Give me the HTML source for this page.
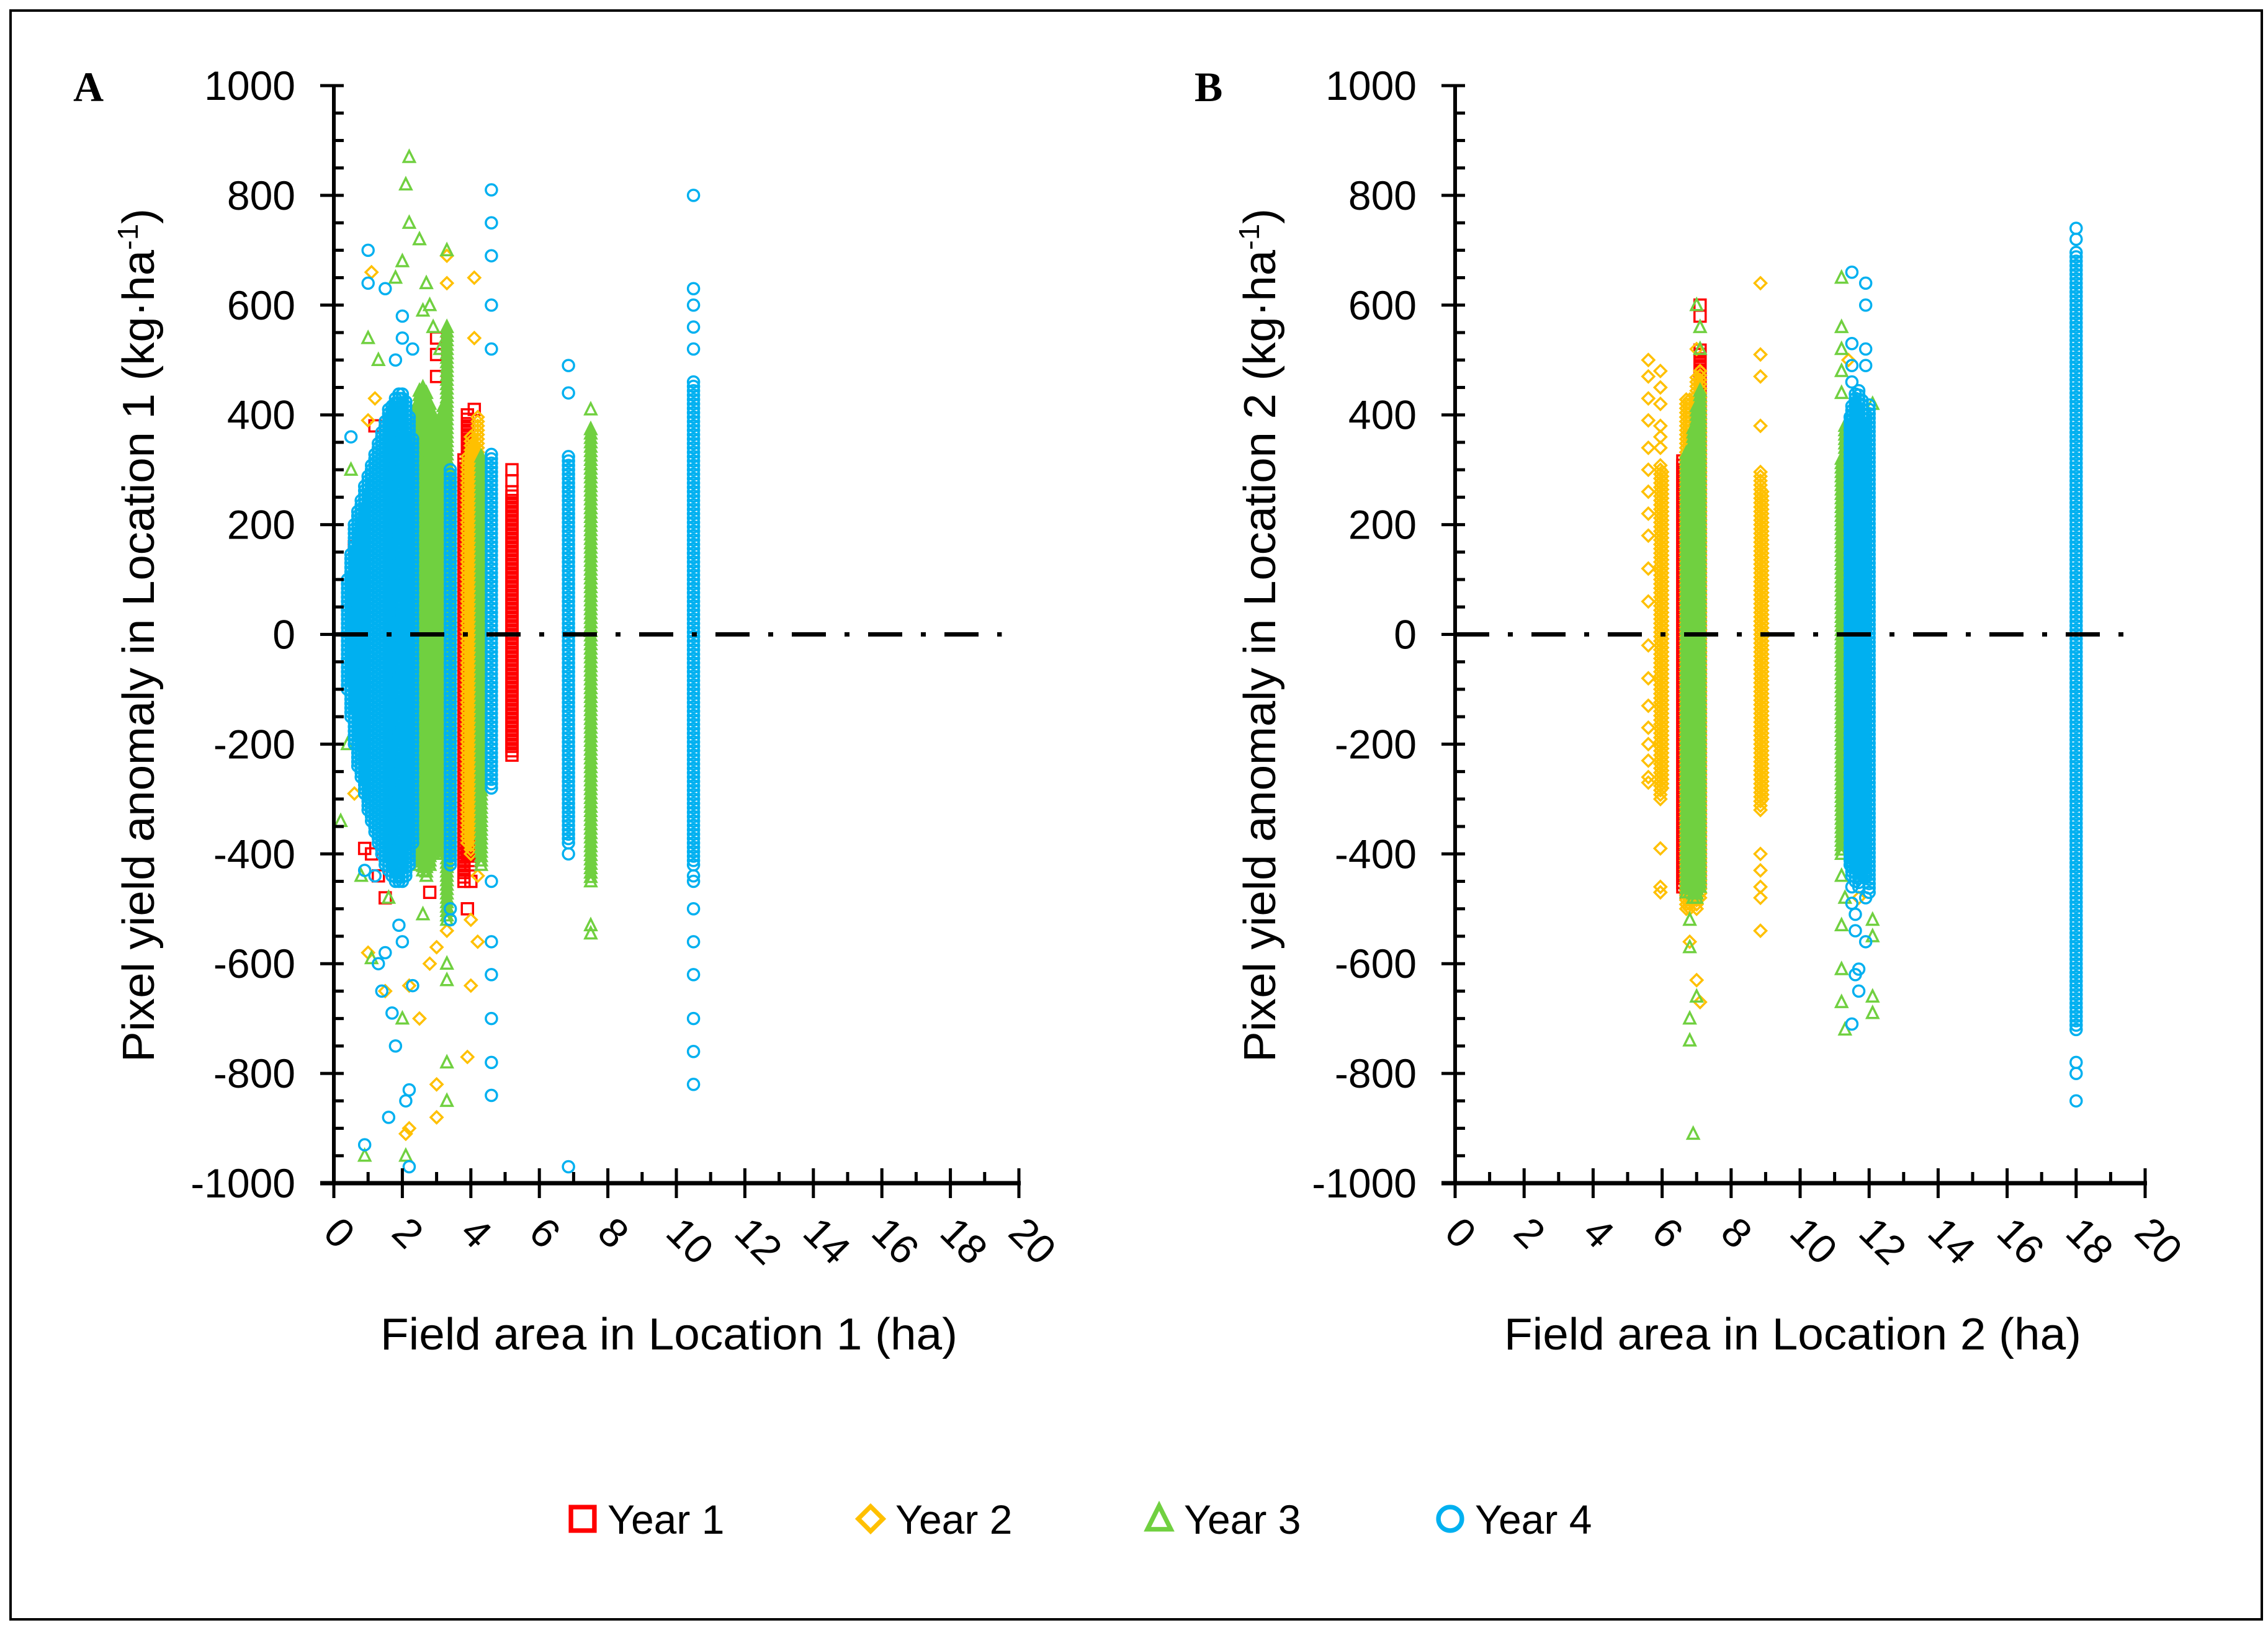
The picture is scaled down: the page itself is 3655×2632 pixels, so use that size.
<!DOCTYPE html>
<html><head><meta charset="utf-8">
<style>
html,body{margin:0;padding:0;background:#fff;}
svg{display:block;font-family:"Liberation Sans",sans-serif;}
</style></head>
<body>
<svg id="chart" width="3655" height="2632" viewBox="0 0 3655 2632" xmlns="http://www.w3.org/2000/svg">
<rect x="17" y="17" width="3628" height="2593" fill="#fff" stroke="#000" stroke-width="4"/>
<g id="plotA"></g>
<g id="plotB"></g>
<g id="legend"></g>
</svg>
<script>
// ---------- Data ----------
const xTicks=[0,2,4,6,8,10,12,14,16,18,20];
const yTicks=[1000,800,600,400,200,0,-200,-400,-600,-800,-1000];
const seriesNames=["Year 1","Year 2","Year 3","Year 4"];

// Panel A: Year 1 (red)
const a1BandX=[3.8,3.9,4.0,4.1,5.2];
const a1BandLo=[-450,-400,-420,-380,-220];
const a1BandHi=[320,400,350,300,260];
const a1OutX=[0.6,0.9,1.2,1.3,1.5,1.9,2.2,2.8,3.0,3.0,2.9,3.9,4.0,4.1,5.2,5.2,1.1,2.5,3.0,4.0];
const a1OutY=[160,-390,380,-440,-480,-330,-340,-470,470,510,-290,-500,330,410,300,280,-400,310,540,-450];
// Panel A: Year 2 (yellow)
const a2BandX=[2.9,3.0,3.9,4.0,4.1,4.2];
const a2BandLo=[-300,-350,-380,-400,-360,-300];
const a2BandHi=[300,350,330,360,350,400];
const a2OutX=[1.0,1.1,1.2,1.5,2.1,2.2,2.5,2.8,3.0,3.0,3.0,3.3,3.3,3.9,4.0,4.1,4.1,4.2,4.2,4.0,1.0,0.6,3.3,2.2];
const a2OutY=[-580,660,430,-650,-910,-640,-700,-600,-820,-880,-570,640,690,-770,-640,650,540,-560,-440,-520,390,-290,-540,-900];
// Panel A: Year 3 (green)
const a3BandX=[2.4,2.5,2.6,2.7,2.8,2.9,3.0,3.1,3.2,3.3,3.4,4.3,7.5];
const a3BandLo=[-400,-420,-430,-440,-420,-400,-400,-380,-400,-520,-400,-420,-450];
const a3BandHi=[420,450,450,440,420,400,380,380,420,560,300,330,380];
const a3OutX=[0.2,0.5,0.8,1.0,1.1,1.3,1.6,2.0,2.1,2.2,2.2,2.5,2.6,2.7,3.3,3.3,3.3,3.3,7.5,7.5,7.5,2.0,1.8,0.9,0.4,3.3,2.6,2.1,2.8,2.9,3.1];
const a3OutY=[-340,300,-440,540,-590,500,-480,680,820,870,750,720,-510,640,700,-600,-780,-850,410,-530,-545,-700,650,-950,-200,-630,590,-950,600,560,520];
// Panel A: Year 4 (blue)
const a4BandX=[0.4,0.5,0.6,0.7,0.8,0.9,1.0,1.1,1.2,1.3,1.4,1.5,1.6,1.7,1.8,1.9,2.0,2.1,2.2,2.3,3.4,4.6,6.85,10.5];
const a4BandLo=[-100,-150,-200,-240,-260,-290,-320,-340,-360,-380,-400,-420,-430,-440,-450,-450,-450,-440,-420,-380,-420,-280,-380,-420];
const a4BandHi=[100,150,200,230,250,270,290,310,330,350,370,390,410,420,430,440,440,430,400,360,300,330,330,460];
const a4OutX=[0.5,0.9,1.0,1.0,1.2,1.4,1.5,1.6,1.8,2.0,2.0,2.2,2.2,2.3,2.3,3.4,3.4,4.6,4.6,4.6,4.6,4.6,4.6,4.6,4.6,4.6,4.6,4.6,6.85,6.85,6.85,6.85,10.5,10.5,10.5,10.5,10.5,10.5,10.5,10.5,10.5,10.5,10.5,10.5,10.5,0.9,1.7,2.1,1.5,1.3,1.9,2.0,1.8];
const a4OutY=[360,-930,700,640,-440,-650,-580,-880,-750,540,-560,-830,-970,-640,520,-500,-520,810,750,690,600,520,-450,-560,-620,-700,-780,-840,-970,490,440,-400,-440,800,630,600,560,520,-450,-500,-560,-620,-700,-760,-820,-430,-690,-850,630,-600,-530,580,500,480];

// Panel B: Year 1 (red)
const b1BandX=[6.6,6.7,6.8,6.9,7.0,7.1];
const b1BandLo=[-460,-470,-470,-470,-470,-450];
const b1BandHi=[320,320,320,350,400,520];
const b1OutX=[7.1,7.1];
const b1OutY=[600,580];
// Panel B: Year 2 (yellow)
const b2BandX=[5.95,6.0,6.7,6.8,7.0,7.1,8.85,8.9];
const b2BandLo=[-300,-280,-500,-500,-500,-480,-320,-300];
const b2BandHi=[310,300,430,430,470,480,300,260];
const b2OutX=[5.6,5.6,5.6,5.6,5.6,5.6,5.6,5.6,5.6,5.6,5.6,5.6,5.6,5.6,5.6,5.6,5.6,5.6,5.6,5.95,5.95,5.95,5.95,5.95,5.95,5.95,5.95,5.95,6.8,7.0,7.1,7.0,8.85,8.85,8.85,8.85,8.85,8.85,8.85,8.85,8.85,11.4,11.7,12.0,12.1];
const b2OutY=[500,470,430,390,340,300,260,220,180,120,60,-20,-80,-130,-170,-200,-230,-260,-270,480,450,420,380,360,340,-390,-460,-470,-560,-630,-670,520,510,470,-400,-430,-460,-480,-540,380,640,500,-480];
// Panel B: Year 3 (green)
const b3BandX=[6.7,6.8,6.9,7.0,7.1,11.2,11.3];
const b3BandLo=[-470,-470,-480,-480,-460,-400,-380];
const b3BandHi=[330,340,380,420,450,320,380];
const b3OutX=[6.8,6.8,6.8,6.8,6.9,7.0,7.1,7.1,7.0,11.2,11.2,11.2,11.2,11.2,11.2,11.2,11.2,11.2,12.1,12.1,12.1,12.1,12.1,11.3,11.3];
const b3OutY=[-520,-570,-700,-740,-910,600,560,520,-660,650,560,520,480,440,-440,-530,-610,-670,-520,-550,-660,-690,420,-720,-480];
// Panel B: Year 4 (blue)
const b4BandX=[11.45,11.5,11.6,11.7,11.8,11.9,12.0,18.0];
const b4BandLo=[-420,-440,-450,-460,-430,-440,-470,-720];
const b4BandHi=[400,420,440,450,430,400,420,700];
const b4OutX=[11.5,11.5,11.5,11.5,11.5,11.6,11.6,11.7,11.7,11.9,11.9,11.9,11.9,11.9,11.9,18.0,18.0,18.0,18.0,18.0,11.5,11.6,11.5];
const b4OutY=[660,530,490,460,-490,-510,-540,-610,-650,640,600,520,490,-480,-560,740,720,-780,-800,-850,-710,-620,-460];

// ---------- Rendering ----------
const NS="http://www.w3.org/2000/svg";
const colors=["#ff0000","#ffc000","#70d040","#00b0f0"];
const svg=document.getElementById("chart");
function mk(tag,attrs,parent){const e=document.createElementNS(NS,tag);for(const k in attrs)e.setAttribute(k,attrs[k]);parent.appendChild(e);return e;}

const panels=[
 {g:document.getElementById("plotA"),x0:538,x1:1642,label:"A",loc:"1",
  series:[[a1BandX,a1BandLo,a1BandHi,a1OutX,a1OutY],[a2BandX,a2BandLo,a2BandHi,a2OutX,a2OutY],[a3BandX,a3BandLo,a3BandHi,a3OutX,a3OutY],[a4BandX,a4BandLo,a4BandHi,a4OutX,a4OutY]]},
 {g:document.getElementById("plotB"),x0:2345,x1:3457,label:"B",loc:"2",
  series:[[b1BandX,b1BandLo,b1BandHi,b1OutX,b1OutY],[b2BandX,b2BandLo,b2BandHi,b2OutX,b2OutY],[b3BandX,b3BandLo,b3BandHi,b3OutX,b3OutY],[b4BandX,b4BandLo,b4BandHi,b4OutX,b4OutY]]}
];
const yTop=138,yBot=1907;
function yS(v){return yBot-(v+1000)/2000*(yBot-yTop);}

function marker(si,cx,cy,parent,scale){
  scale=scale||1;const c=colors[si];let e;
  if(si===0){const h=9*scale;e=mk("rect",{x:cx-h,y:cy-h,width:2*h,height:2*h,fill:"none",stroke:c,"stroke-width":3.5*scale},parent);}
  else if(si===1){const h=9.5*scale;e=mk("polygon",{points:`${cx},${cy-h} ${cx+h},${cy} ${cx},${cy+h} ${cx-h},${cy}`,fill:"none",stroke:c,"stroke-width":3.5*scale},parent);}
  else if(si===2){const h=10*scale;e=mk("polygon",{points:`${cx},${cy-h} ${cx+h*0.9},${cy+h*0.8} ${cx-h*0.9},${cy+h*0.8}`,fill:"none",stroke:c,"stroke-width":3.5*scale},parent);}
  else {e=mk("circle",{cx:cx,cy:cy,r:9*scale,fill:"none",stroke:c,"stroke-width":3.5*scale},parent);}
  return e;
}

panels.forEach(p=>{
  const g=p.g;
  const xS=v=>p.x0+v/20*(p.x1-p.x0);
  p.series.forEach((s,si)=>{
    const sg=mk("g",{},g);
    
    
    const [bx,blo,bhi,ox,oy]=s;
    bx.forEach((xv,i)=>{
      for(let v=blo[i];v<=bhi[i];v+=8){
        const m=marker(si,xS(xv),yS(v),sg);
        
        
      }
    });
    ox.forEach((xv,i)=>{
      const m=marker(si,xS(xv),yS(oy[i]),sg);
      
      
    });
  });
  const zl=mk("line",{x1:xS(0),x2:xS(19.5),y1:yS(0),y2:yS(0),stroke:"#000","stroke-width":7,"stroke-dasharray":"55 30 8 30"},g);
  
  
  const ya=mk("line",{x1:p.x0,x2:p.x0,y1:yTop,y2:yBot+3,stroke:"#000","stroke-width":6},g);
  
  
  const xa=mk("line",{x1:p.x0-22,x2:p.x1+3,y1:yBot,y2:yBot,stroke:"#000","stroke-width":7},g);
  
  
  for(let v=-1000;v<=1000;v+=50){
    const major=v%200===0;
    const t=mk("line",{x1:major?p.x0-22:p.x0,x2:p.x0+16,y1:yS(v),y2:yS(v),stroke:"#000","stroke-width":5},g);
    
    
  }
  for(let v=0;v<=20;v+=1){
    const major=v%2===0;
    const t=mk("line",{x1:xS(v),x2:xS(v),y1:major?yBot-24:yBot-18,y2:major?yBot+24:yBot,stroke:"#000","stroke-width":5},g);
    
    
  }
  yTicks.forEach(v=>{
    const t=mk("text",{x:p.x0-62,y:yS(v)+23,"font-size":66,"text-anchor":"end",fill:"#000"},g);
    t.textContent=v;
    
    
  });
  xTicks.forEach(v=>{
    const x=xS(v)-20,y=1990;
    const t=mk("text",{x:x,y:y,"font-size":66,"text-anchor":"start",fill:"#000",transform:`rotate(45 ${x} ${y})`},g);
    t.textContent=v;
    
    
  });
  const cx=(p.x0+p.x1)/2-12;
  const xt=mk("text",{x:cx,y:2175,"font-size":72,"text-anchor":"middle",fill:"#000",textLength:930,lengthAdjust:"spacingAndGlyphs"},g);
  xt.textContent="Field area in Location "+p.loc+" (ha)";
  
  
  const tx=p.x0-290,ty=1024;
  const yt=mk("text",{x:tx,y:ty,"font-size":72,"text-anchor":"middle",fill:"#000",transform:`rotate(-90 ${tx} ${ty})`,textLength:1376,lengthAdjust:"spacingAndGlyphs"},g);
  yt.innerHTML="Pixel yield anomaly in Location "+p.loc+" (kg·ha<tspan dy='-26' font-size='46'>-1</tspan><tspan dy='26'>)</tspan>";
  
  
  const pl=mk("text",{x:p.x0-420,y:163,"font-size":68,"font-weight":"bold","font-family":"Liberation Serif, serif",fill:"#000"},g);
  pl.textContent=p.label;
  
  
});

const lg=document.getElementById("legend");
const legMarkX=[939,1403,1868,2337];
seriesNames.forEach((n,i)=>{
  const eg=mk("g",{},lg);
  
  
  marker(i,legMarkX[i],2448,eg,2.1);
  const t=mk("text",{x:legMarkX[i]+40,y:2472,"font-size":66,fill:"#000"},eg);
  t.textContent=n;
});
</script>
</body></html>
